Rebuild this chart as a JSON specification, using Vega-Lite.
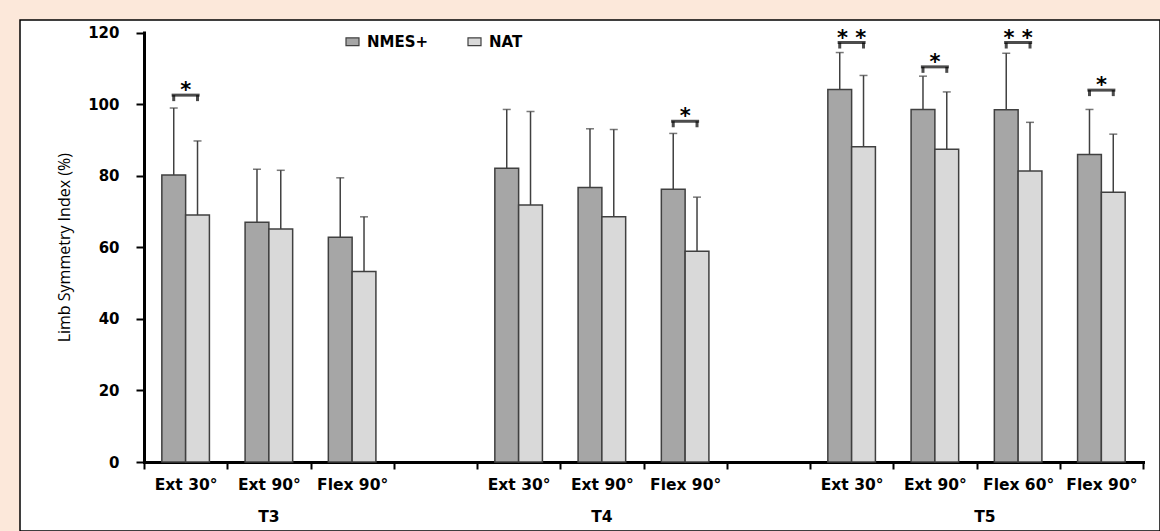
{
  "$schema": "https://vega.github.io/schema/vega-lite/v6.json",
  "width": 1140,
  "height": 511,
  "autosize": {"type": "none"},
  "padding": {"left": 20, "top": 20, "right": 0, "bottom": 0},
  "background": "#fce8da",
  "config": {
    "view": {"fill": "white", "stroke": "black", "strokeWidth": 1.5},
    "font": "DejaVu Sans"
  },
  "datasets": {
    "bars": [
      {"slot": "T3|Ext 30°", "series": "NMES+", "value": 80.2, "err": 98.9, "sig": 102.5, "stars": "*"},
      {"slot": "T3|Ext 30°", "series": "NAT", "value": 69.0, "err": 89.7, "sig": 102.5, "stars": "*"},
      {"slot": "T3|Ext 90°", "series": "NMES+", "value": 67.0, "err": 81.8},
      {"slot": "T3|Ext 90°", "series": "NAT", "value": 65.1, "err": 81.5},
      {"slot": "T3|Flex 90°", "series": "NMES+", "value": 62.8, "err": 79.4},
      {"slot": "T3|Flex 90°", "series": "NAT", "value": 53.2, "err": 68.5},
      {"slot": "T4|Ext 30°", "series": "NMES+", "value": 82.1, "err": 98.5},
      {"slot": "T4|Ext 30°", "series": "NAT", "value": 71.8, "err": 97.9},
      {"slot": "T4|Ext 90°", "series": "NMES+", "value": 76.7, "err": 93.1},
      {"slot": "T4|Ext 90°", "series": "NAT", "value": 68.5, "err": 92.9},
      {"slot": "T4|Flex 90°", "series": "NMES+", "value": 76.2, "err": 91.8, "sig": 95.2, "stars": "*"},
      {"slot": "T4|Flex 90°", "series": "NAT", "value": 58.9, "err": 74.0, "sig": 95.2, "stars": "*"},
      {"slot": "T5|Ext 30°", "series": "NMES+", "value": 104.1, "err": 114.4, "sig": 117.2, "stars": "* *"},
      {"slot": "T5|Ext 30°", "series": "NAT", "value": 88.1, "err": 108.0, "sig": 117.2, "stars": "* *"},
      {"slot": "T5|Ext 90°", "series": "NMES+", "value": 98.5, "err": 107.8, "sig": 110.4, "stars": "*"},
      {"slot": "T5|Ext 90°", "series": "NAT", "value": 87.4, "err": 103.4, "sig": 110.4, "stars": "*"},
      {"slot": "T5|Flex 60°", "series": "NMES+", "value": 98.4, "err": 114.2, "sig": 117.2, "stars": "* *"},
      {"slot": "T5|Flex 60°", "series": "NAT", "value": 81.3, "err": 94.9, "sig": 117.2, "stars": "* *"},
      {"slot": "T5|Flex 90°", "series": "NMES+", "value": 85.9, "err": 98.5, "sig": 103.9, "stars": "*"},
      {"slot": "T5|Flex 90°", "series": "NAT", "value": 75.4, "err": 91.6, "sig": 103.9, "stars": "*"}
    ],
    "groups": [
      {"grp": "T3", "slot": "T3|Ext 90°"},
      {"grp": "T4", "slot": "T4|Ext 90°"},
      {"grp": "T5", "slot": "T5|Flex 60°"}
    ]
  },
  "layer": [
    {
      "data": {"name": "bars"},
      "mark": {"type": "bar", "stroke": "#404040", "strokeWidth": 1.5},
      "encoding": {
        "x": {
          "field": "slot",
          "type": "nominal",
          "sort": null,
          "scale": {
            "domain": ["T3|Ext 30°", "T3|Ext 90°", "T3|Flex 90°", "gap1", "T4|Ext 30°", "T4|Ext 90°", "T4|Flex 90°", "gap2", "T5|Ext 30°", "T5|Ext 90°", "T5|Flex 60°", "T5|Flex 90°"],
            "range": [124, 1123],
            "paddingInner": 0,
            "paddingOuter": 0
          },
          "axis": {
            "title": null,
            "orient": "bottom",
            "offset": -69,
            "domainColor": "black",
            "domainWidth": 3,
            "domainCap": "square",
            "tickColor": "black",
            "tickWidth": 2,
            "tickSize": 7,
            "tickBand": "extent",
            "labelExpr": "indexof(datum.label, '|') >= 0 ? split(datum.label, '|')[1] : ''",
            "labelFont": "DejaVu Sans",
            "labelFontWeight": "bold",
            "labelFontSize": 15.5,
            "labelColor": "black",
            "labelPadding": 8,
            "labelAngle": 0,
            "labelOverlap": false,
            "labelBound": false,
            "grid": false
          }
        },
        "xOffset": {
          "field": "series",
          "type": "nominal",
          "sort": null,
          "scale": {"domain": ["NMES+", "NAT"], "paddingInner": 0, "paddingOuter": 0.75}
        },
        "y": {
          "field": "value",
          "type": "quantitative",
          "scale": {"domain": [0, 120], "range": [442, 12.5], "nice": false, "zero": false},
          "axis": {
            "title": "Limb Symmetry Index (%)",
            "orient": "left",
            "offset": -124,
            "values": [0, 20, 40, 60, 80, 100, 120],
            "domainColor": "black",
            "domainWidth": 3,
            "domainCap": "square",
            "tickColor": "black",
            "tickWidth": 2,
            "tickSize": 8,
            "labelFont": "DejaVu Sans",
            "labelFontWeight": "bold",
            "labelFontSize": 15,
            "labelColor": "black",
            "labelPadding": 17,
            "titleFont": "Open Sans",
            "titleFontSize": 16,
            "titleFontWeight": 500,
            "titleColor": "black",
            "titlePadding": 15,
            "grid": false
          }
        },
        "color": {
          "field": "series",
          "type": "nominal",
          "sort": null,
          "scale": {"domain": ["NMES+", "NAT"], "range": ["#a6a6a6", "#d9d9d9"]},
          "legend": {
            "orient": "none",
            "legendX": 325,
            "legendY": 14,
            "direction": "horizontal",
            "title": null,
            "padding": 0,
            "labelFont": "DejaVu Sans",
            "labelFontWeight": "bold",
            "labelFontSize": 15,
            "labelColor": "black",
            "labelOffset": 7,
            "columnPadding": 36,
            "symbolType": "M-1,-0.6H1V0.6H-1Z",
            "symbolSize": 169,
            "symbolStrokeColor": "#404040",
            "symbolStrokeWidth": 1.2
          }
        }
      }
    },
    {
      "data": {"name": "bars"},
      "mark": {"type": "rule", "color": "#404040", "strokeWidth": 1.5},
      "encoding": {
        "x": {"field": "slot", "type": "nominal"},
        "xOffset": {"field": "series", "type": "nominal"},
        "y": {"field": "value", "type": "quantitative"},
        "y2": {"field": "err"}
      }
    },
    {
      "data": {"name": "bars"},
      "mark": {"type": "tick", "color": "#404040", "thickness": 1.5, "size": 8, "orient": "horizontal"},
      "encoding": {
        "x": {"field": "slot", "type": "nominal"},
        "xOffset": {"field": "series", "type": "nominal"},
        "y": {"field": "err", "type": "quantitative"}
      }
    },
    {
      "data": {"name": "bars"},
      "transform": [{"filter": "isValid(datum.sig)"}],
      "mark": {"type": "tick", "color": "black", "thickness": 3, "size": 6, "orient": "vertical", "yOffset": 3},
      "encoding": {
        "x": {"field": "slot", "type": "nominal"},
        "xOffset": {"field": "series", "type": "nominal"},
        "y": {"field": "sig", "type": "quantitative"}
      }
    },
    {
      "data": {"name": "bars"},
      "transform": [{"filter": "isValid(datum.sig) && datum.series == 'NMES+'"}],
      "mark": {"type": "tick", "color": "black", "thickness": 3, "size": 28, "orient": "horizontal"},
      "encoding": {
        "x": {"field": "slot", "type": "nominal"},
        "y": {"field": "sig", "type": "quantitative"}
      }
    },
    {
      "data": {"name": "bars"},
      "transform": [{"filter": "isValid(datum.sig) && datum.series == 'NMES+'"}],
      "mark": {"type": "text", "font": "DejaVu Sans", "fontWeight": "bold", "fontSize": 21, "baseline": "alphabetic", "dy": 2, "color": "black"},
      "encoding": {
        "x": {"field": "slot", "type": "nominal"},
        "y": {"field": "sig", "type": "quantitative"},
        "text": {"field": "stars"}
      }
    },
    {
      "data": {"name": "groups"},
      "transform": [{"filter": "datum.grp != 'T5'"}],
      "mark": {"type": "text", "font": "DejaVu Sans", "fontWeight": "bold", "fontSize": 15.5, "baseline": "middle", "color": "black"},
      "encoding": {
        "x": {"field": "slot", "type": "nominal"},
        "y": {"datum": -15.4},
        "text": {"field": "grp"}
      }
    },
    {
      "data": {"name": "groups"},
      "transform": [{"filter": "datum.grp == 'T5'"}],
      "mark": {"type": "text", "font": "DejaVu Sans", "fontWeight": "bold", "fontSize": 15.5, "baseline": "middle", "color": "black"},
      "encoding": {
        "x": {"field": "slot", "type": "nominal", "bandPosition": 0.1},
        "y": {"datum": -15.4},
        "text": {"field": "grp"}
      }
    }
  ]
}
